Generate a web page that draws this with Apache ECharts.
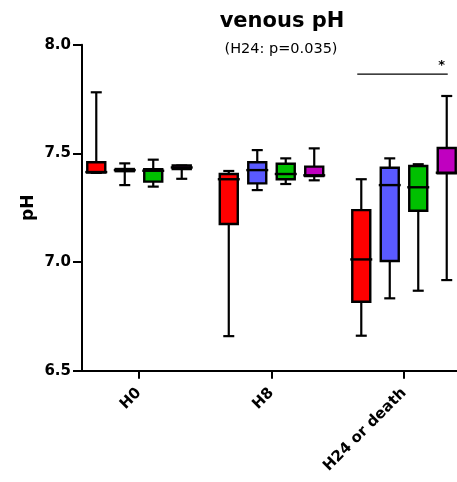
<!DOCTYPE html>
<html>
<head>
<meta charset="utf-8">
<script src="https://cdn.jsdelivr.net/npm/echarts@6/dist/echarts.min.js"></script>
<style>
html,body{margin:0;padding:0;background:#fff;}
#chart{width:457px;height:482px;}
</style>
</head>
<body>
<div id="chart"></div>
<script>
// Categories (x positions 0,1,2)
const categories = ['H0', 'H8', 'H24 or death'];
const yTicks = [6.5, 7.0, 7.5, 8.0];
// Each row: [min, Q1, median, Q3, max] per category
const redGroup = [
  [7.410, 7.412, 7.414, 7.459, 7.781],
  [6.659, 7.175, 7.381, 7.405, 7.419],
  [6.661, 6.817, 7.012, 7.239, 7.381]
];
const blueGroup = [
  [7.354, 7.418, 7.423, 7.428, 7.454],
  [7.331, 7.362, 7.423, 7.459, 7.515],
  [6.833, 7.005, 7.354, 7.434, 7.477]
];
const greenGroup = [
  [7.347, 7.370, 7.420, 7.427, 7.471],
  [7.359, 7.381, 7.405, 7.452, 7.477],
  [6.868, 7.236, 7.344, 7.442, 7.450]
];
const purpleGroup = [
  [7.383, 7.428, 7.435, 7.444, 7.444],
  [7.376, 7.396, 7.399, 7.439, 7.523],
  [6.917, 7.408, 7.411, 7.525, 7.764]
];
const groups = [redGroup, blueGroup, greenGroup, purpleGroup];
const groupColors = ['#ff0000', '#5a5aff', '#00c000', '#c000c0'];
// significance annotation at H24 between first and last group
const sigCategory = 2;
const sigLevel = 7.865;
const sigText = '*';

const chart = echarts.init(document.getElementById('chart'), null, {renderer: 'canvas'});
const FONT = 'DejaVu Sans';
const SPACING = 0.215;

function makeRender(g) {
  return function (params, api) {
    const x = api.value(0);
    const band = api.size([1, 0])[0];
    const cx = api.coord([x, api.value(3)])[0] + (g - 1.5) * band * SPACING;
    const py = k => api.coord([x, api.value(k)])[1];
    const yMin = py(1), yQ1 = py(2), yMed = py(3), yQ3 = py(4), yMax = py(5);
    const bw = 18, cw = 11, mw = 22;
    const stroke = {stroke: '#000', lineWidth: 2.2};
    return {
      type: 'group',
      children: [
        {type: 'line', shape: {x1: cx, y1: yMax, x2: cx, y2: yQ3}, style: stroke},
        {type: 'line', shape: {x1: cx, y1: yQ1, x2: cx, y2: yMin}, style: stroke},
        {type: 'line', shape: {x1: cx - cw / 2, y1: yMax, x2: cx + cw / 2, y2: yMax}, style: stroke},
        {type: 'line', shape: {x1: cx - cw / 2, y1: yMin, x2: cx + cw / 2, y2: yMin}, style: stroke},
        {type: 'rect', shape: {x: cx - bw / 2, y: yQ3, width: bw, height: Math.max(yQ1 - yQ3, 0.5)},
          style: {fill: groupColors[g], stroke: '#000', lineWidth: 2.4}},
        {type: 'line', shape: {x1: cx - mw / 2, y1: yMed, x2: cx + mw / 2, y2: yMed}, style: {stroke: '#000', lineWidth: 2.4}}
      ]
    };
  };
}

const series = groups.map((grp, g) => ({
  type: 'custom',
  name: 'group' + g,
  renderItem: makeRender(g),
  data: grp.map((row, i) => [i].concat(row)),
  encode: {x: 0, y: [1, 2, 3, 4, 5]},
  clip: false,
  silent: true
}));

series.push({
  type: 'custom',
  name: 'sig',
  silent: true,
  clip: false,
  data: [[sigCategory, sigLevel]],
  encode: {x: 0, y: 1},
  renderItem: function (params, api) {
    const x = api.value(0);
    const band = api.size([1, 0])[0];
    const c = api.coord([x, api.value(1)]);
    const x1 = c[0] - 1.5 * band * SPACING - 4;
    const x2 = c[0] + 1.5 * band * SPACING + 1;
    return {
      type: 'group',
      children: [
        {type: 'line', shape: {x1: x1, y1: c[1], x2: x2, y2: c[1]}, style: {stroke: '#000', lineWidth: 1.3}},
        {type: 'text', x: x2 - 6, y: c[1] - 2,
          style: {text: sigText, fill: '#000', font: 'bold 13px "' + FONT + '"', align: 'center', verticalAlign: 'bottom'}}
      ]
    };
  }
});

const option = {
  backgroundColor: '#fff',
  animation: false,
  title: [
    {text: 'venous pH', left: 277, top: 6, textAlign: 'center',
      textStyle: {fontFamily: FONT, fontWeight: 'bold', fontSize: 21, color: '#000'}},
    {text: '(H24: p=0.035)', left: 276, top: 37, textAlign: 'center',
      textStyle: {fontFamily: FONT, fontWeight: 'normal', fontSize: 14.5, color: '#000'}}
  ],
  grid: {left: 82, right: 0, top: 44.7, bottom: 111.3, containLabel: false},
  xAxis: {
    type: 'value',
    min: -0.4302,
    max: 2.4,
    splitLine: {show: false},
    axisLine: {show: true, onZero: false, lineStyle: {color: '#000', width: 2}},
    axisTick: {show: true, inside: false, customValues: [0, 1, 2], length: 8, lineStyle: {color: '#000', width: 2}},
    axisLabel: {
      show: true, customValues: [0, 1, 2], rotate: 45, margin: 20,
      formatter: v => categories[Math.round(v)],
      fontFamily: FONT, fontWeight: 'bold', fontSize: 15, color: '#000'
    }
  },
  yAxis: {
    type: 'value',
    min: 6.5,
    max: 8.0,
    interval: 0.5,
    name: 'pH',
    nameLocation: 'middle',
    nameGap: 45,
    nameMoveOverlap: false,
    nameTextStyle: {fontFamily: FONT, fontWeight: 'bold', fontSize: 17, color: '#000'},
    splitLine: {show: false},
    axisLine: {show: true, onZero: false, lineStyle: {color: '#000', width: 2}},
    axisTick: {show: true, inside: false, customValues: yTicks, length: 9, lineStyle: {color: '#000', width: 2}},
    axisLabel: {
      margin: 11,
      formatter: v => v.toFixed(1),
      fontFamily: FONT, fontWeight: 'bold', fontSize: 15, color: '#000'
    }
  },
  series: series
};
chart.setOption(option);
</script>
</body>
</html>
